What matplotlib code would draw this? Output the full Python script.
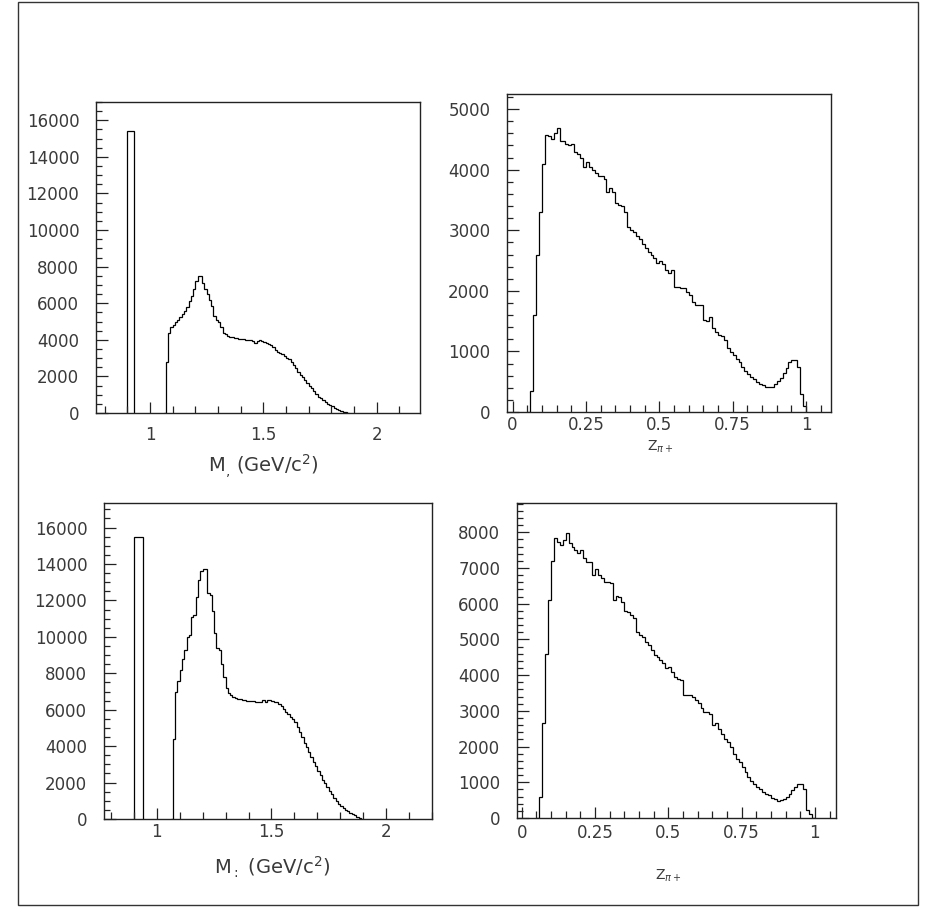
import numpy as np
import matplotlib
matplotlib.use("Agg")
import matplotlib.pyplot as plt
from matplotlib.ticker import MultipleLocator, FuncFormatter
from matplotlib.patches import Rectangle

# ---- data (bin width 0.01) ----
bw = 0.01

# mass spectra: narrow spike + broad distribution
m_spike_start = 0.90
m_top_spike = [15430, 15430, 15430]
m_bot_spike = [15480, 15480, 15480, 15480]

m_main_start = 1.06
m_top_main = [0, 2800, 4400, 4700, 4800, 4950, 5100, 5250, 5400, 5600,
              5800, 6100, 6400, 6800, 7200, 7500, 7500, 7100, 6800, 6500,
              6200, 5850, 5300, 5100, 4950, 4700, 4400, 4300, 4220, 4180,
              4150, 4100, 4080, 4050, 4040, 4040, 4000, 4000, 3980, 3950,
              3850, 3950, 3980, 3950, 3900, 3850, 3750, 3700, 3600, 3450,
              3350, 3300, 3200, 3100, 3000, 2950, 2800, 2600, 2450, 2250,
              2100, 1950, 1800, 1650, 1500, 1350, 1200, 1050, 900, 800,
              700, 600, 500, 430, 370, 300, 240, 180, 130, 80,
              40, 10]
m_bot_main = [0, 4400, 7000, 7600, 8200, 8800, 9300, 10000, 10100, 11100,
              11200, 12200, 13100, 13600, 13700, 13700, 12400, 12300, 11400, 10200,
              9400, 9300, 8500, 7800, 7200, 6900, 6800, 6700, 6650, 6600,
              6600, 6550, 6550, 6500, 6500, 6500, 6500, 6450, 6450, 6400,
              6550, 6400, 6550, 6550, 6500, 6450, 6400, 6300, 6200, 6050,
              5900, 5750, 5600, 5500, 5300, 5050, 4800, 4500, 4200, 3950,
              3700, 3400, 3150, 2900, 2650, 2400, 2150, 1950, 1750, 1550,
              1350, 1150, 1000, 850, 700, 600, 500, 420, 350, 280,
              200, 130, 70, 20]

# z distributions
z_start = 0.05
z_top = [0, 350, 1600, 2600, 3300, 4100, 4580, 4560, 4500, 4600,
         4690, 4480, 4470, 4420, 4400, 4430, 4300, 4260, 4200, 4040,
         4120, 4040, 3990, 3950, 3900, 3890, 3850, 3640, 3700, 3640,
         3450, 3420, 3400, 3300, 3050, 3000, 2970, 2900, 2860, 2780,
         2700, 2640, 2600, 2550, 2460, 2490, 2450, 2340, 2300, 2350,
         2070, 2060, 2050, 2040, 1980, 1930, 1820, 1770, 1760, 1760,
         1520, 1500, 1570, 1380, 1320, 1270, 1250, 1185, 1050, 990,
         940, 880, 820, 740, 680, 630, 580, 550, 500, 470,
         440, 420, 410, 420, 460, 510, 560, 640, 720, 830,
         860, 860, 750, 300, 100]
z_bot = [0, 600, 2650, 4600, 6100, 7200, 7830, 7740, 7650, 7790,
         7970, 7690, 7600, 7500, 7410, 7500, 7270, 7180, 7180, 6800,
         6960, 6800, 6710, 6620, 6600, 6570, 6100, 6220, 6200, 6060,
         5790, 5780, 5680, 5590, 5220, 5120, 5075, 4940, 4840, 4700,
         4560, 4500, 4420, 4330, 4190, 4230, 4100, 3950, 3880, 3860,
         3440, 3440, 3440, 3390, 3300, 3210, 3070, 2970, 2970, 2925,
         2600, 2650, 2500, 2365, 2224, 2130, 1990, 1800, 1664, 1570,
         1430, 1290, 1150, 1050, 963, 870, 800, 729, 680, 636,
         560, 520, 480, 500, 530, 590, 680, 776, 869, 963,
         963, 822, 215, 100, 0]

W, H = 945, 915
fig = plt.figure(figsize=(W / 100, H / 100), dpi=100)
plt.rcParams['font.family'] = ['DejaVu Sans']
tc = '#3a3a3a'


def px_axes(l, r, t, b):
    return fig.add_axes([l / W, (H - b) / H, (r - l) / W, (b - t) / H])


def edges(start, n):
    return start + bw * np.arange(n + 1)


def style(ax, xmaj, xmin, ymaj, ymin, xfmt, xpad):
    for s in ax.spines.values():
        s.set_linewidth(1.0)
        s.set_color('#222222')
    ax.xaxis.set_major_locator(MultipleLocator(xmaj))
    ax.xaxis.set_minor_locator(MultipleLocator(xmin))
    ax.yaxis.set_major_locator(MultipleLocator(ymaj))
    ax.yaxis.set_minor_locator(MultipleLocator(ymin))
    ax.xaxis.set_major_formatter(FuncFormatter(xfmt))
    ax.yaxis.set_major_formatter(FuncFormatter(lambda v, p: '%d' % v))
    ax.tick_params(axis='both', which='both', direction='in', top=False,
                   right=False, colors='#222222', labelcolor=tc, labelsize=12)
    ax.tick_params(axis='x', which='major', length=8, width=0.9, pad=xpad)
    ax.tick_params(axis='x', which='minor', length=5, width=0.9)
    ax.tick_params(axis='y', which='major', length=8.5, width=0.9, pad=12)
    ax.tick_params(axis='y', which='minor', length=4.5, width=0.9)


def mfmt(v, p):
    return '%g' % v if abs(v - round(v * 2) / 2) < 1e-6 else ''


def zfmt(v, p):
    return '%g' % round(v, 2)


# top-left: mass
ax = px_axes(96, 420, 102, 413)
ax.stairs(m_top_spike, edges(m_spike_start, len(m_top_spike)), color='black', lw=0.9)
ax.stairs(m_top_main, edges(m_main_start, len(m_top_main)), color='black', lw=0.9)
ax.set_xlim(0.762, 2.191)
ax.set_ylim(0, 17000)
style(ax, 0.5, 0.1, 2000, 500, mfmt, 9)

# top-right: z
ax = px_axes(507, 831, 94, 412)
ax.stairs(z_top, edges(z_start, len(z_top)), color='black', lw=0.9)
ax.set_xlim(-0.019, 1.085)
ax.set_ylim(0, 5250)
style(ax, 0.25, 0.05, 1000, 200, zfmt, 3)

# bottom-left: mass
ax = px_axes(104, 432, 503, 819)
ax.stairs(m_bot_spike, edges(m_spike_start, len(m_bot_spike)), color='black', lw=0.9)
ax.stairs(m_bot_main, edges(m_main_start, len(m_bot_main)), color='black', lw=0.9)
ax.set_xlim(0.770, 2.2)
ax.set_ylim(0, 17350)
style(ax, 0.5, 0.1, 2000, 500, mfmt, 3)

# bottom-right: z
ax = px_axes(517, 836, 503, 818)
ax.stairs(z_bot, edges(z_start, len(z_bot)), color='black', lw=0.9)
ax.set_xlim(-0.016, 1.072)
ax.set_ylim(0, 8820)
style(ax, 0.25, 0.05, 1000, 200, zfmt, 4)

# axis titles
fig.text(263 / W, 1 - 466 / H, r'M$_{,}$ (GeV/c$^{2}$)', ha='center', va='center',
         fontsize=14, color=tc)
fig.text(272 / W, 1 - 867 / H, r'M$_{:}$ (GeV/c$^{2}$)', ha='center', va='center',
         fontsize=14, color=tc)
fig.text(660 / W, 1 - 447 / H, r'Z$_{\pi+}$', ha='center', va='center',
         fontsize=10, color=tc)
fig.text(668 / W, 1 - 876 / H, r'Z$_{\pi+}$', ha='center', va='center',
         fontsize=10, color=tc)

# page frame
fig.patches.append(Rectangle((18 / W, 1 - 905 / H), 900 / W, 903 / H,
                             transform=fig.transFigure, fill=False,
                             lw=1.0, ec='#333333'))

fig.savefig('out.png', dpi=100, facecolor='white')
